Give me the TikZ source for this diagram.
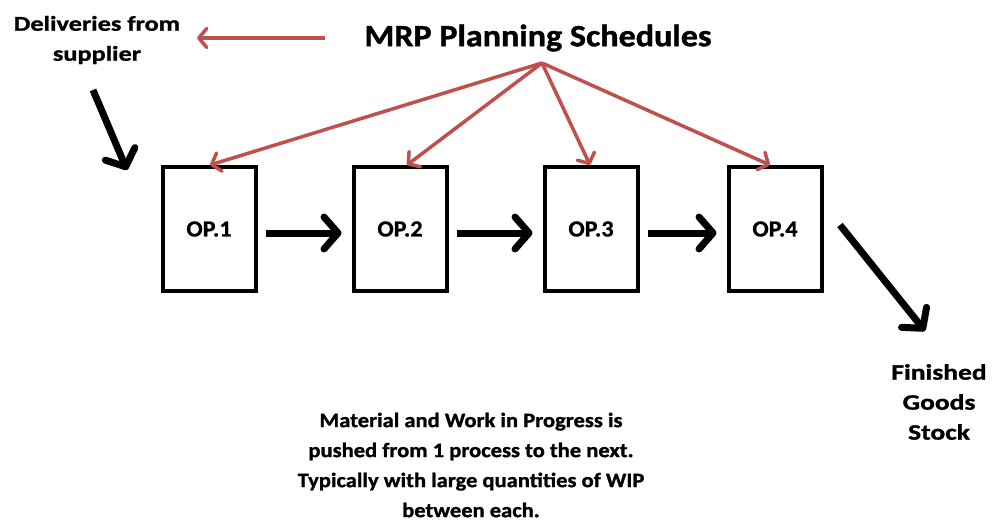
\documentclass[tikz,border=0pt]{standalone}
\usepackage{fontspec}
\setmainfont{Carlito}
\newfontfamily\wideA[FakeStretch=1.1,FakeBold=1.2]{Carlito}
\newfontfamily\wideB[FakeStretch=1.25,FakeBold=1.2]{Carlito}
\newfontfamily\wideC[FakeStretch=1.05,FakeBold=0.8]{Carlito}
\usetikzlibrary{arrows.meta}
\definecolor{mrpred}{RGB}{192,80,77}
\begin{document}
\begin{tikzpicture}[x=1pt,y=-1pt,
  opbox/.style={draw,line width=4pt,minimum width=93pt,minimum height=124pt,inner sep=0pt,font=\wideC\bfseries\fontsize{23}{26}\selectfont},
  lbl/.style={align=center,font=\wideA\bfseries\fontsize{20.5}{30}\selectfont,inner sep=0pt},
  lblw/.style={align=center,font=\wideB\bfseries\fontsize{21}{30}\selectfont,inner sep=0pt},
  blk/.style={line width=7pt,-{Straight Barb[length=14pt,width=32pt,round]}},
  redarr/.style={draw=mrpred,line width=3.5pt,-{Straight Barb[length=8pt,width=19pt,round]}}]
\useasboundingbox (0,0) rectangle (998,522);
\node[opbox] (op1) at (209,229) {OP.1};
\node[opbox] (op2) at (400,229) {OP.2};
\node[opbox] (op3) at (591,229) {OP.3};
\node[opbox] (op4) at (775,229) {OP.4};
\node[lbl,font=\wideA\bfseries\fontsize{31}{34}\selectfont] (mrp) at (538,38) {MRP Planning Schedules};
\node[lblw] (deliv) at (97,40) {Deliveries from\\supplier};
\node[lblw,font=\wideB\bfseries\fontsize{22}{30}\selectfont] (fgs) at (939,402) {Finished\\Goods\\Stock};
\node[lbl] (note) at (471,465) {Material and Work in Progress is\\pushed from 1 process to the next.\\Typically with large quantities of WIP\\between each.};
\coordinate (src) at (542,63);
\coordinate (redstart) at (325,38);
\coordinate (redend) at (197,38);
\coordinate (sup1) at (93,90);
\coordinate (sup2) at (127,170);
\coordinate (fin1) at (840,225);
\coordinate (fin2) at (925,331);
\draw[redarr] (redstart) -- (redend);
\draw[redarr] (src) -- ([xshift=1pt]op1.north);
\draw[redarr] (src) -- ([xshift=7pt]op2.north);
\draw[redarr] (src) -- ([xshift=-1pt]op3.north);
\draw[redarr] (src) -- ([xshift=-5pt]op4.north);
\draw[blk] ([xshift=8pt,yshift=-4pt]op1.east) -- ([xshift=-10pt,yshift=-4pt]op2.west);
\draw[blk] ([xshift=8pt,yshift=-4pt]op2.east) -- ([xshift=-10pt,yshift=-4pt]op3.west);
\draw[blk] ([xshift=8pt,yshift=-4pt]op3.east) -- ([xshift=-10pt,yshift=-4pt]op4.west);
\draw[blk] (sup1) -- (sup2);
\draw[blk] (fin1) -- (fin2);
\end{tikzpicture}
\end{document}
